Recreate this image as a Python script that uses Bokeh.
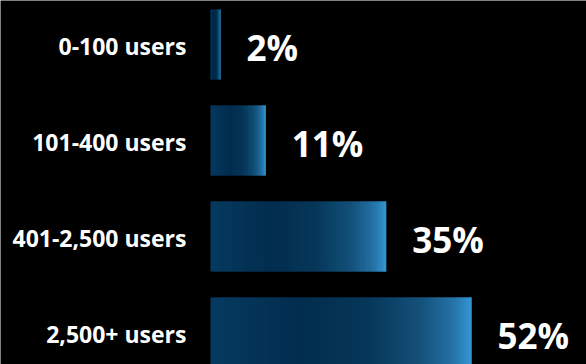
import numpy as np
from bokeh.plotting import figure
from bokeh.models import Range1d, ColumnDataSource
from bokeh.core.properties import value
from bokeh.embed import file_html
from bokeh.resources import INLINE

categories = ["0-100 users", "101-400 users", "401-2,500 users", "2,500+ users"]
shares = [2, 11, 35, 52]
share_labels = ["2%", "11%", "35%", "52%"]

# gradient stops across each bar (fraction of bar length -> colour)
grad_pos = [0.0, 0.35, 0.6, 0.8, 0.93, 1.0]
grad_col = ["#063a60", "#022d4e", "#063759", "#135079", "#2472a8", "#3397d3"]

def hex2rgb(h):
    h = h.lstrip("#")
    return np.array([int(h[i:i + 2], 16) for i in (0, 2, 4)], dtype=float)

stops_rgb = np.array([hex2rgb(c) for c in grad_col])

def colour_at(t):
    r = np.interp(t, grad_pos, stops_rgb[:, 0])
    g = np.interp(t, grad_pos, stops_rgb[:, 1])
    b = np.interp(t, grad_pos, stops_rgb[:, 2])
    return "#%02x%02x%02x" % (int(round(r)), int(round(g)), int(round(b)))

W, H = 586, 364
px_per_unit = 5.02      # pixels per percentage point
bar_left_px = 210       # pixel where the value axis starts
pitch = 96.0            # pixels between bar centres
first_centre = 44.0     # pixel of first bar centre from top

p = figure(width=W, height=H, output_backend="svg", toolbar_location=None,
           x_range=Range1d(-bar_left_px / px_per_unit, (W - bar_left_px) / px_per_unit),
           y_range=Range1d((H - first_centre) / pitch, -first_centre / pitch),
           min_border=0)
p.background_fill_color = "black"
p.border_fill_color = "black"
p.outline_line_color = None
p.grid.visible = False
p.axis.visible = False

# gradient bars as thin overlapping slices
n = 80
left, right, top, bottom, cols = [], [], [], [], []
bar_h = 70.0 / pitch
for i, v in enumerate(shares):
    edges = np.linspace(0, v, n + 1)
    for k in range(n):
        t = (k + 0.5) / n
        left.append(edges[k])
        right.append(edges[min(k + 2, n)])
        top.append(i - bar_h / 2)
        bottom.append(i + bar_h / 2)
        cols.append(colour_at(t))
src = ColumnDataSource(dict(left=left, right=right, top=top, bottom=bottom, c=cols))
p.quad(left="left", right="right", top="top", bottom="bottom", fill_color="c",
       line_color=None, source=src)

ys = list(range(len(shares)))
lab = ColumnDataSource(dict(x=shares, y=ys, t=share_labels))
p.text(x="x", y="y", text="t", source=lab, x_offset=26, y_offset=3,
       text_color="white", text_font=value("Open Sans"), text_font_style="bold",
       text_font_size="35px", text_baseline="middle", text_align="left")

cat = ColumnDataSource(dict(x=[0] * len(categories), y=ys, t=categories))
p.text(x="x", y="y", text="t", source=cat, x_offset=-24, y_offset=1,
       text_color="white", text_font=value("Open Sans"), text_font_style="bold",
       text_font_size="23px", text_baseline="middle", text_align="right")

open("out.html", "w").write(file_html(p, INLINE))
